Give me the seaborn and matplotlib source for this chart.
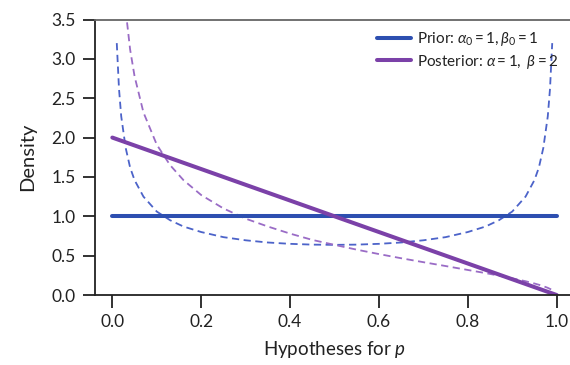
import numpy as np
import pandas as pd
import matplotlib
matplotlib.use("Agg")
import matplotlib.pyplot as plt
import seaborn as sns

# Flat prior and linear posterior (solid lines)
prior_p = [0.0, 1.0]
prior_density = [1.0, 1.0]
post_p = [0.0, 1.0]
post_density = [2.0, 0.0]

# U-shaped reference prior (blue dashed)
ref_prior_p = [0.01, 0.015, 0.02, 0.03, 0.04, 0.05, 0.07, 0.10, 0.13, 0.16, 0.20,
               0.25, 0.30, 0.35, 0.40, 0.45, 0.50, 0.55, 0.60, 0.65, 0.70, 0.75,
               0.80, 0.84, 0.87, 0.90, 0.93, 0.95, 0.96, 0.97, 0.98, 0.985, 0.99]
ref_prior_density = [3.20, 2.62, 2.27, 1.87, 1.62, 1.46, 1.25, 1.06, 0.95, 0.87, 0.80,
                     0.735, 0.695, 0.667, 0.65, 0.64, 0.637, 0.64, 0.65, 0.667, 0.695, 0.735,
                     0.80, 0.87, 0.95, 1.06, 1.25, 1.46, 1.62, 1.87, 2.27, 2.62, 3.20]

# Matching posterior for the U-shaped prior (purple dashed)
ref_post_p = [0.01, 0.015, 0.02, 0.025, 0.03, 0.04, 0.05, 0.07, 0.10, 0.13, 0.16,
              0.20, 0.25, 0.30, 0.35, 0.40, 0.45, 0.50, 0.55, 0.60, 0.65, 0.70,
              0.75, 0.80, 0.84, 0.87, 0.90, 0.93, 0.95, 0.96, 0.97, 0.98, 0.99]
ref_post_density = [6.33, 5.16, 4.46, 3.98, 3.62, 3.12, 2.78, 2.32, 1.91, 1.65, 1.46,
                    1.27, 1.10, 0.97, 0.87, 0.78, 0.70, 0.637, 0.576, 0.52, 0.467, 0.417,
                    0.368, 0.318, 0.278, 0.246, 0.212, 0.175, 0.146, 0.13, 0.112, 0.091, 0.064]

x_ticks = [0.0, 0.2, 0.4, 0.6, 0.8, 1.0]
y_ticks = [0.0, 0.5, 1.0, 1.5, 2.0, 2.5, 3.0, 3.5]

sns.set_theme(style="ticks")
plt.rcParams["font.family"] = ["Lato", "DejaVu Sans"]
plt.rcParams["mathtext.fontset"] = "custom"
plt.rcParams["mathtext.rm"] = "Lato"
plt.rcParams["mathtext.it"] = "Lato:italic"
plt.rcParams["mathtext.bf"] = "Lato:bold"

BLUE = "#2d4fb0"
PURPLE = "#7b41a8"
BLUE_D = "#4c63c9"
PURPLE_D = "#9a6cc6"

fig = plt.figure(figsize=(5.7, 3.65), dpi=100)
ax = fig.add_axes([95 / 570, 70 / 365, 479 / 570, 275.5 / 365])

sns.lineplot(x=ref_prior_p, y=ref_prior_density, ax=ax, color=BLUE_D,
             lw=1.3, linestyle=(0, (4, 2.5)), sort=False, estimator=None)
sns.lineplot(x=ref_post_p, y=ref_post_density, ax=ax, color=PURPLE_D,
             lw=1.3, linestyle=(0, (4, 2.5)), sort=False, estimator=None)
sns.lineplot(x=prior_p, y=prior_density, ax=ax, color=BLUE, lw=2.9,
             label=r"Prior: $\alpha_0 = 1, \beta_0 = 1$", sort=False, estimator=None)
sns.lineplot(x=post_p, y=post_density, ax=ax, color=PURPLE, lw=2.9,
             label=r"Posterior: $\alpha = 1,\ \beta = 2$", sort=False, estimator=None)

ax.set_xlim(-0.039, 1.039)
ax.set_ylim(0, 3.5)
ax.set_xticks(x_ticks)
ax.set_xticklabels([f"{v:.1f}" for v in x_ticks])
ax.set_yticks(y_ticks)
ax.set_yticklabels([f"{v:.1f}" for v in y_ticks])
ax.tick_params(axis="both", direction="out", length=9, width=1.3, color="#222222",
               labelsize=12.5, labelcolor="#222222", pad=5)
for side in ["left", "bottom", "top", "right"]:
    ax.spines[side].set_linewidth(1.3)
    ax.spines[side].set_color("#222222")
ax.spines["top"].set_color("#666666")

ax.set_xlabel(r"Hypotheses for $p$", fontsize=13.5, color="#222222", labelpad=6)
ax.set_ylabel("Density", fontsize=14.5, color="#222222", labelpad=11)

leg = ax.legend(loc="upper left", bbox_to_anchor=(377 / 570, 1 - 30 / 365),
                bbox_transform=fig.transFigure, frameon=False, fontsize=11,
                handlelength=2.2, handletextpad=0.4, borderpad=0, borderaxespad=0,
                labelspacing=0.3)
for t in leg.get_texts():
    t.set_color("#222222")

fig.savefig("out.png", dpi=100)
